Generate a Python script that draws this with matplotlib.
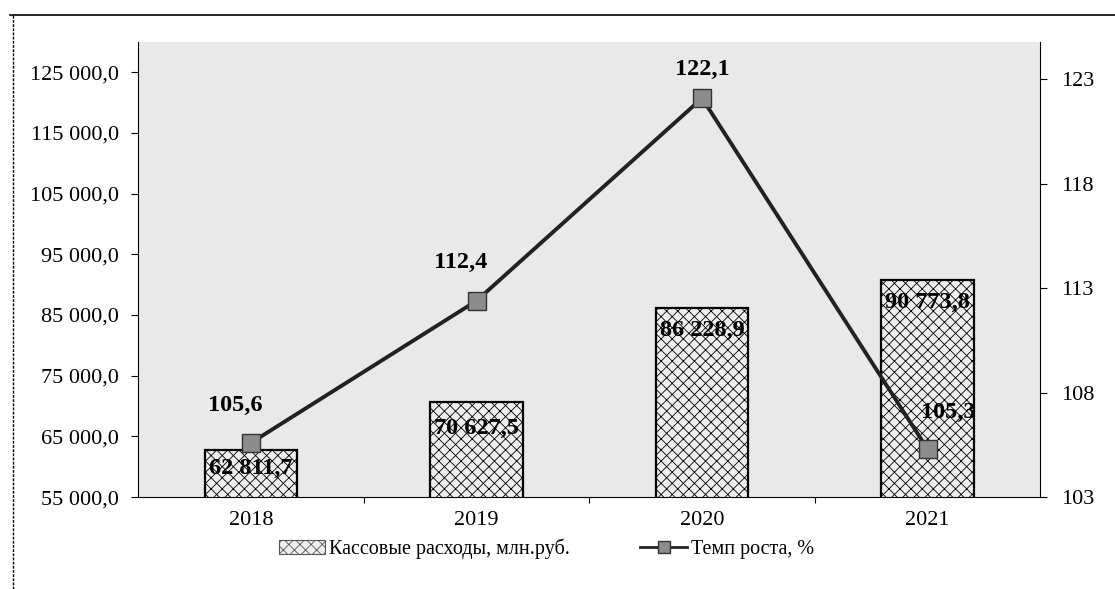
import matplotlib
matplotlib.use('Agg')
import matplotlib.pyplot as plt
from matplotlib.lines import Line2D
from matplotlib.patches import Patch

plt.rcParams['font.family'] = ['Liberation Serif', 'DejaVu Serif']
plt.rcParams['hatch.color'] = '#999999'
plt.rcParams['hatch.linewidth'] = 0.6

years = ['2018', '2019', '2020', '2021']
expenses = [62811.7, 70627.5, 86228.9, 90773.8]
growth = [105.6, 112.4, 122.1, 105.3]
expense_labels = ['62 811,7', '70 627,5', '86 228,9', '90 773,8']
growth_labels = ['105,6', '112,4', '122,1', '105,3']
left_ticks = [55000, 65000, 75000, 85000, 95000, 105000, 115000, 125000]
right_ticks = [103, 108, 113, 118, 123]

fig = plt.figure(figsize=(11.15, 5.89), dpi=100)
ax = fig.add_axes([0.124, 0.156, 0.809, 0.773])
ax.set_facecolor('#e9e9e9')
ax.patch.set_hatch('...')

x = list(range(len(years)))
bars = ax.bar(x, expenses, width=0.41, color='#eeeeee', edgecolor='black',
              linewidth=1.6, hatch='xxx', zorder=2)
ax.set_xlim(-0.5, 3.5)
ax.set_ylim(55000, 130000)
ax.set_yticks(left_ticks)
ax.set_yticklabels([f'{v:,.1f}'.replace(',', ' ').replace('.', ',') for v in left_ticks])
ax.set_xticks(x)
ax.set_xticklabels(years)
ax.set_xticks([0.5, 1.5, 2.5], minor=True)
ax.tick_params(axis='y', labelsize=16, length=5, width=0.8, pad=9)
ax.tick_params(axis='x', which='major', labelsize=16, length=0, pad=10)
ax.tick_params(axis='x', which='minor', length=4, width=0.8)
for s in ['top', 'right']:
    ax.spines[s].set_visible(False)
ax.spines['left'].set_linestyle((0, (2, 1)))
ax.spines['left'].set_linewidth(0.8)
ax.spines['bottom'].set_linewidth(0.8)

bar_offs = [-3030, -4260, -3720, -3650]
for xi, v, t, off in zip(x, expenses, expense_labels, bar_offs):
    ax.text(xi, v + off, t, ha='center', va='center', fontsize=17.5,
            fontweight='bold', zorder=5)

ax2 = ax.twinx()
ax2.set_ylim(103, 124.8)
ax2.set_yticks(right_ticks)
ax2.tick_params(labelsize=16, length=5, width=0.8, pad=10)
for s in ['top', 'left', 'bottom']:
    ax2.spines[s].set_visible(False)
ax2.spines['right'].set_linestyle((0, (2, 1)))
ax2.spines['right'].set_linewidth(0.8)
ax2.plot(x, growth, color='#222222', linewidth=2.8, marker='s', markersize=12.5,
         markerfacecolor='#8c8c8c', markeredgecolor='#333333', zorder=4)
offs = [(-0.07, 1.8), (-0.07, 1.82), (0.0, 1.4), (0.09, 1.73)]
for xi, v, t, (dx, dy) in zip(x, growth, growth_labels, offs):
    ax2.text(xi + dx, v + dy, t, ha='center', va='center', fontsize=17.5,
             fontweight='bold', zorder=5)

handles = [Patch(facecolor='#eeeeee', edgecolor='#555555', hatch='xxx', linewidth=0.8),
           Line2D([0], [0], color='#222222', linewidth=2, marker='s', markersize=9,
                  markerfacecolor='#8c8c8c', markeredgecolor='#333333')]
fig.legend(handles, ['Кассовые расходы, млн.руб.', 'Темп роста, %'],
           loc='center', bbox_to_anchor=(0.49, 0.068), ncol=2, frameon=False,
           fontsize=14.5, handlelength=2.3, handletextpad=0.2, columnspacing=3.5)

# outer frame of the scanned figure
fig.add_artist(Line2D([0.009, 1.0], [0.974, 0.974], color='black', linewidth=1.2))
fig.add_artist(Line2D([0.012, 0.012], [0.0, 0.974], color='black', linewidth=1.0,
                      linestyle=(0, (2, 1))))

fig.savefig('out.png', dpi=100)
